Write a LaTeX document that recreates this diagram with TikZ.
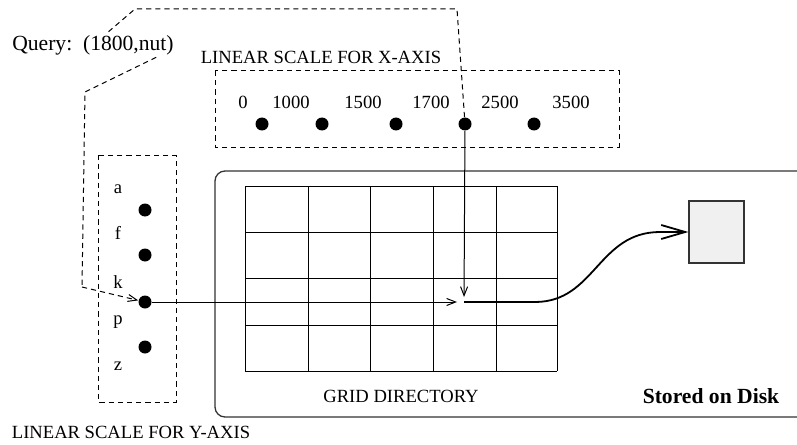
\documentclass[tikz,border=0pt]{standalone}
\usepackage{fontspec}
\setmainfont{Liberation Serif}
\usetikzlibrary{arrows.meta, calc}
\definecolor{cframe}{HTML}{333333}
\definecolor{cdisk}{HTML}{F0F0F0}
\tikzset{
  lbl/.style={font=\fontsize{9.3}{11}\selectfont, inner sep=1pt},
  big/.style={font=\fontsize{10.8}{13}\selectfont, inner sep=1pt},
  dot/.style={circle, fill=black, inner sep=0pt, minimum size=6.5pt},
  dashbox/.style={draw, dash pattern=on 2.6pt off 2pt, line width=0.5pt},
  qline/.style={dash pattern=on 2.6pt off 2pt, line width=0.5pt},
  tip/.style={-{Straight Barb[length=4.5pt, width=3.5pt]}},
  bigtip/.style={-{Straight Barb[length=12pt, width=7pt]}}
}

\begin{document}
\begin{tikzpicture}[x=0.5pt, y=-0.5pt, line width=0.5pt]
  \useasboundingbox (0,0) rectangle (797,444);

  % disk frame and grid directory
  \draw[cframe, line width=0.65pt, rounded corners=5pt] (215,171) rectangle (812,417);
  \foreach \x in {245,308,370,433,496,557}
    \draw (\x,186) -- (\x,371);
  \foreach \y in {186,232,278,325,371}
    \draw (245,\y) -- (557,\y);
  \node[lbl] (gridlbl) at (401,396) {GRID DIRECTORY};
  \node[big, font=\fontsize{10.8}{13}\selectfont\bfseries] (storedlbl) at (711,396) {Stored on Disk};
  \node[draw=cframe, fill=cdisk, line width=0.6pt, minimum width=27.5pt, minimum height=31pt, inner sep=0pt] (disk) at (716.5,232) {};
  \coordinate (cell) at (464,302);

  % linear scale for x-axis
  \node[lbl] (xlbl) at (321,57) {LINEAR SCALE FOR X-AXIS};
  \draw[dashbox] (215,71) rectangle (619,147);
  \foreach \v/\lx/\dx [count=\i] in {0/243/262, 1000/291/322, 1500/363/396, 1700/431/465, 2500/500/534}{
    \node[lbl] (xv\i) at (\lx,102) {\v};
    \node[dot] (x\i) at (\dx,124) {};
  }
  \node[lbl] (xv6) at (571,102) {3500};

  % linear scale for y-axis
  \draw[dashbox] (98,155) rectangle (176,402);
  \foreach \l/\ly in {a/189, f/233, k/282, p/322, z/366}
    \node[lbl] (l\l) at (118,\ly) {\l};
  \foreach \dy [count=\i] in {210,255,302,347}
    \node[dot] (y\i) at (145,\dy) {};
  \node[lbl] (ylbl) at (131,432) {LINEAR SCALE FOR Y-AXIS};

  % query path
  \node[big] (query) at (93,45) {Query:\ \ (1800,nut)};
  \coordinate (qtr) at (457,9);
  \coordinate (qtl) at (135,9);
  \coordinate (qbl) at (85,92);
  \coordinate (qdl) at (82,287);
  \draw[qline] (x4) -- (qtr) -- (qtl) -- (query);
  \draw[qline] ([xshift=-10pt]query.south east) -- (qbl) -- (qdl);
  \draw[qline, tip] (qdl) -- (y3);

  % lookup
  \draw[tip, shorten >=3.5pt] (y3) -- (cell);
  \draw[tip, shorten >=2.5pt] (x4) -- (cell);
  \draw[bigtip, line width=0.9pt] (cell) -- (535,302) .. controls (595,302) and (598,232) .. (660,232) -- (disk.west);
\end{tikzpicture}
\end{document}
